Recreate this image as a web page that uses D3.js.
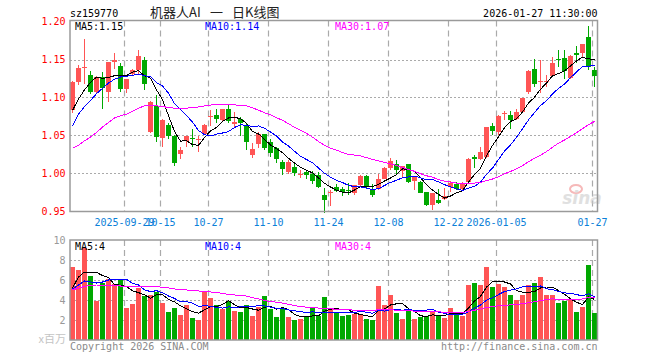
<!DOCTYPE html>
<html>
<head>
<meta charset="utf-8">
<script src="https://cdn.jsdelivr.net/npm/d3@7"></script>
<style>
body { margin: 0; background: #fff; }
svg { display: block; }
text { font-family: "DejaVu Sans Mono", monospace; font-size: 10px; }
</style>
</head>
<body>
<svg id="chart" width="660" height="360"></svg>
<script>
// trading days shown
const dates = [
  "2025-09-16","2025-09-17","2025-09-18","2025-09-19","2025-09-22","2025-09-23","2025-09-24","2025-09-25","2025-09-26","2025-09-29",
  "2025-09-30","2025-10-09","2025-10-10","2025-10-13","2025-10-14","2025-10-15","2025-10-16","2025-10-17","2025-10-20","2025-10-21",
  "2025-10-22","2025-10-23","2025-10-24","2025-10-27","2025-10-28","2025-10-29","2025-10-30","2025-10-31","2025-11-03","2025-11-04",
  "2025-11-05","2025-11-06","2025-11-07","2025-11-10","2025-11-11","2025-11-12","2025-11-13","2025-11-14","2025-11-17","2025-11-18",
  "2025-11-19","2025-11-20","2025-11-21","2025-11-24","2025-11-25","2025-11-26","2025-11-27","2025-11-28","2025-12-01","2025-12-02",
  "2025-12-03","2025-12-04","2025-12-05","2025-12-08","2025-12-09","2025-12-10","2025-12-11","2025-12-12","2025-12-15","2025-12-16",
  "2025-12-17","2025-12-18","2025-12-19","2025-12-22","2025-12-23","2025-12-24","2025-12-25","2025-12-26","2025-12-29","2025-12-30",
  "2025-12-31","2026-01-05","2026-01-06","2026-01-07","2026-01-08","2026-01-09","2026-01-12","2026-01-13","2026-01-14","2026-01-15",
  "2026-01-16","2026-01-19","2026-01-20","2026-01-21","2026-01-22","2026-01-23","2026-01-26","2026-01-27"
];

const opens = [
  1.083,1.121,1.139,1.130,1.1075,1.127,1.1075,1.147,1.141,1.111,
  1.131,1.136,1.149,1.055,1.0886,1.047,1.0636,1.050,1.026,1.043,
  1.0465,1.045,1.0526,1.0755,1.0768,1.070,1.0855,1.065,1.0715,1.0636,
  1.024,1.0386,1.0526,1.0417,1.033,1.0154,1.002,1.0088,0.9995,1.002,
  1.000,0.998,0.9715,0.975,0.9825,0.980,0.9785,0.9746,0.9846,0.9965,
  0.980,0.980,0.9934,1.0066,1.013,1.0035,1.0123,0.990,0.989,0.976,
  0.9583,0.965,0.967,0.9825,0.9868,0.980,0.989,1.022,1.0197,1.022,
  1.0627,1.0548,1.078,1.0768,1.0715,1.081,1.1075,1.1373,1.121,1.121,
  1.128,1.1505,1.1526,1.1263,1.1588,1.1588,1.180,1.136
];
const highs = [
  1.122,1.143,1.177,1.135,1.128,1.134,1.147,1.158,1.146,1.125,
  1.137,1.162,1.1535,1.095,1.103,1.072,1.0658,1.0504,1.035,1.050,
  1.058,1.049,1.065,1.0842,1.0846,1.0855,1.090,1.081,1.074,1.0658,
  1.0395,1.0548,1.0526,1.046,1.0355,1.0184,1.0175,1.0123,1.0044,1.0044,
  1.0035,1.002,0.9803,0.978,0.9868,0.9825,0.988,0.9855,0.9978,0.9978,
  0.986,1.000,1.0088,1.021,1.0184,1.0101,1.0123,0.9956,0.990,0.976,
  0.9746,0.979,0.9803,0.990,0.989,0.989,1.020,1.025,1.035,1.0614,
  1.067,1.0768,1.0825,1.0825,1.0843,1.100,1.136,1.1513,1.149,1.129,
  1.1535,1.162,1.163,1.1557,1.1675,1.170,1.1939,1.1404
];
const lows = [
  1.080,1.116,1.118,1.104,1.105,1.0855,1.094,1.138,1.1075,1.106,
  1.129,1.129,1.1096,1.053,1.0417,1.035,1.046,1.010,1.0197,1.035,
  1.035,1.028,1.051,1.0623,1.067,1.068,1.0658,1.0605,1.0496,1.0307,
  1.021,1.0338,1.0307,1.022,1.014,0.9978,1.000,0.997,0.9947,0.9925,
  0.986,0.9803,0.9482,0.9574,0.9759,0.970,0.9715,0.9715,0.9825,0.9803,
  0.9693,0.978,0.9925,1.0044,1.000,0.9956,0.988,0.978,0.9737,0.957,
  0.9518,0.960,0.965,0.9755,0.978,0.978,0.988,1.0066,1.018,1.021,
  1.0504,1.0504,1.070,1.0592,1.0702,1.079,1.1045,1.114,1.106,1.114,
  1.127,1.1404,1.125,1.125,1.1456,1.1535,1.136,1.114
];
const closes = [
  1.121,1.139,1.140,1.1075,1.127,1.112,1.1465,1.150,1.111,1.124,
  1.136,1.155,1.118,1.094,1.0474,1.071,1.050,1.014,1.031,1.049,
  1.046,1.046,1.0636,1.076,1.0715,1.0855,1.069,1.068,1.066,1.0417,
  1.032,1.0526,1.033,1.0272,1.019,1.0057,1.0154,1.001,1.000,0.998,
  0.990,0.9825,0.965,0.976,0.977,0.976,0.978,0.9846,0.9965,0.9825,
  0.9715,0.9934,1.0066,1.0167,1.0044,1.0096,0.989,0.995,0.9746,0.9583,
  0.9737,0.9614,0.9706,0.9877,0.979,0.9877,1.0189,1.0197,1.0285,1.0614,
  1.0557,1.0759,1.079,1.070,1.0803,1.0987,1.135,1.1175,1.122,1.122,
  1.146,1.150,1.135,1.1544,1.1553,1.170,1.140,1.1285
];
// volume, millions
const volumes = [
  7.3,7.03,9.2,6.4,3.9,5.7,6.1,5.6,6.1,3.2,
  3.6,5.2,4.45,4.5,4.85,3.7,2.8,3.2,2.5,3.5,
  2.2,2.0,4.9,4.2,3.5,3.15,3.9,2.9,2.8,3.5,
  2.4,3.3,4.4,3.1,2.3,3.1,2.3,2.0,2.1,2.4,
  3.2,2.4,4.3,3.1,2.8,2.4,2.5,2.6,2.5,2.1,
  2.0,5.4,3.5,4.5,2.7,2.1,2.9,2.1,2.3,2.4,
  2.9,2.5,2.2,3.2,2.7,2.4,5.5,5.7,5.5,7.3,
  5.3,5.6,5.3,4.5,4.0,4.5,5.5,5.7,6.3,4.5,
  4.5,3.7,3.9,4.0,2.8,3.3,7.5,2.7
];

// moving-average values before a full window exists
const ma5Head = [1.083,1.098,1.110,1.120];
const ma10Head = [1.063,1.078,1.088,1.096,1.105,1.112,1.119,1.124,1.127];
const ma30Head = [1.033,1.037,1.043,1.048,1.054,1.061,1.067,1.073,1.076,1.078,1.082,1.086,1.089,1.089,1.089,
  1.088,1.087,1.086,1.0855,1.086,1.087,1.0875,1.089,1.090,1.091,1.091,1.091,1.0905,1.089];
const vma5Head = [5.2,6.3,6.8,6.8];
const vma10Head = [5.1,5.5,5.9,5.8,5.7,5.8,6.0,6.05,6.05];
const vma30Head = [5.0,5.2,5.35,5.45,5.5,5.5,5.5,5.45,5.4,5.4,5.4,5.4,5.4,5.4,5.35,
  5.25,5.2,5.1,5.05,5.0,4.95,4.9,4.85,4.8,4.75,4.65,4.55,4.5,4.45];

const priceTicks = [0.95,1.00,1.05,1.10,1.15,1.20];
const volTicks = [2,4,6,8,10];
const tickDates = ["2025-09-29","2025-10-15","2025-10-27","2025-11-10","2025-11-24","2025-12-08","2025-12-22","2026-01-05","2026-01-27"];
const tickLabels = ["2025-09-29","10-15","10-27","11-10","11-24","12-08","12-22","2026-01-05","01-27"];

const code = "sz159770",
  titleParts = ["机器人AI", "一", "日K线图"],
  stamp = "2026-01-27 11:30:00";

// layout
const left = 70, right = 597.5;
const main = {top: 20.5, bottom: 211.5};
const vol = {top: 240, bottom: 340};
const RED = "#ff5555", GREEN = "#00a800", GRID = "#aaa";
const MA_COLORS = ["#000", "#0000ff", "#ff00ff"];

const movingAvg = (values, n, head) =>
  values.map((v, i) => i < n - 1 ? head[i] : d3.mean(values.slice(i - n + 1, i + 1)));

const ma = [movingAvg(closes, 5, ma5Head), movingAvg(closes, 10, ma10Head), movingAvg(closes, 30, ma30Head)];
const vma = [movingAvg(volumes, 5, vma5Head), movingAvg(volumes, 10, vma10Head), movingAvg(volumes, 30, vma30Head)];

const svg = d3.select("#chart");

let x = d3.scaleLinear()
  .domain([0, dates.length - 1])
  .range([left + 2.5, left + 2.5 + 6 * (dates.length - 1)]);

let y = d3.scaleLinear()
  .domain([0.95, 1.20])
  .range([main.bottom, main.top + 1]);

let yv = d3.scaleLinear()
  .domain([0, 10])
  .range([vol.bottom, vol.top]);

const up = i => closes[i] >= opens[i];

// grid
const tickIdx = tickDates.map(d => dates.indexOf(d));
[main, vol].forEach(p => {
  svg.append("g")
    .selectAll("line")
    .data(tickIdx)
    .join("line")
    .attr("x1", i => x(i) - 2).attr("x2", i => x(i) - 2)
    .attr("y1", p.top).attr("y2", p.bottom)
    .attr("stroke", GRID).attr("stroke-width", 1.2)
    .attr("stroke-dasharray", "6,4");
});

svg.append("g")
  .selectAll("line")
  .data(priceTicks.slice(1, -1))
  .join("line")
  .attr("x1", left).attr("x2", right)
  .attr("y1", d => Math.round(y(d)) + 0.5).attr("y2", d => Math.round(y(d)) + 0.5)
  .attr("stroke", GRID).attr("stroke-dasharray", "2,2");

svg.append("g")
  .selectAll("line")
  .data(volTicks.slice(0, -1))
  .join("line")
  .attr("x1", left).attr("x2", right)
  .attr("y1", d => yv(d) + 0.5).attr("y2", d => yv(d) + 0.5)
  .attr("stroke", GRID).attr("stroke-dasharray", "2,2");

// sina watermark
const wm = svg.append("g").attr("opacity", 0.55);
wm.append("ellipse").attr("cx", 576).attr("cy", 189).attr("rx", 6).attr("ry", 4)
  .attr("fill", "none").attr("stroke", "#f08080").attr("stroke-width", 2);
wm.append("text").attr("x", 582).attr("y", 204).attr("text-anchor", "middle")
  .style("font-family", "DejaVu Sans").style("font-size", "17px")
  .style("font-style", "italic").style("font-weight", "bold")
  .attr("fill", "#c8c8c8").text("sina");

// candles
const candles = svg.append("g")
  .attr("shape-rendering", "crispEdges")
  .selectAll("g")
  .data(dates.map((d, i) => i))
  .join("g")
  .attr("fill", i => up(i) ? RED : GREEN)
  .attr("stroke", i => up(i) ? RED : GREEN);

candles.append("line")
  .attr("x1", i => x(i)).attr("x2", i => x(i))
  .attr("y1", i => y(highs[i])).attr("y2", i => y(lows[i]));

candles.append("rect")
  .attr("stroke", "none")
  .attr("x", i => x(i) - 2.5)
  .attr("width", 5)
  .attr("y", i => y(Math.max(opens[i], closes[i])))
  .attr("height", i => Math.max(1, Math.abs(y(opens[i]) - y(closes[i]))));

// volume bars
svg.append("g")
  .attr("shape-rendering", "crispEdges")
  .selectAll("rect")
  .data(volumes)
  .join("rect")
  .attr("x", (d, i) => x(i) - 2.5)
  .attr("width", 5)
  .attr("y", d => yv(d))
  .attr("height", d => vol.bottom - yv(d))
  .attr("fill", (d, i) => up(i) ? RED : GREEN);

// moving averages
let line = d3.line().x((d, i) => x(i)).y(d => y(d));
let vline = d3.line().x((d, i) => x(i)).y(d => yv(d));

svg.append("g")
  .attr("fill", "none")
  .attr("shape-rendering", "crispEdges")
  .selectAll("path")
  .data(ma)
  .join("path")
  .attr("d", line)
  .attr("stroke", (d, i) => MA_COLORS[i]);

svg.append("g")
  .attr("fill", "none")
  .attr("shape-rendering", "crispEdges")
  .selectAll("path")
  .data(vma)
  .join("path")
  .attr("d", vline)
  .attr("stroke", (d, i) => MA_COLORS[i]);

// frames
[main, vol].forEach(p => {
  svg.append("rect")
    .attr("x", left).attr("y", p.top)
    .attr("width", right - left).attr("height", p.bottom - p.top)
    .attr("fill", "none").attr("stroke", "#9a9a9a").attr("stroke-width", 1.5);
});

// axis labels
svg.append("g")
  .selectAll("text")
  .data(priceTicks)
  .join("text")
  .attr("x", 65.5).attr("y", d => y(d)).attr("dy", "0.35em")
  .attr("text-anchor", "end").attr("fill", "#ff0000")
  .text(d => d.toFixed(2));

svg.append("g")
  .selectAll("text")
  .data(volTicks)
  .join("text")
  .attr("x", 65.5).attr("y", d => yv(d)).attr("dy", "0.35em")
  .attr("text-anchor", "end").attr("fill", "#999")
  .text(d => d);

svg.append("text")
  .attr("x", 66).attr("y", 343).attr("text-anchor", "end")
  .attr("fill", "#c4c4c4")
  .style("font-family", "Noto Sans CJK SC").style("font-size", "11px")
  .text("x百万");

svg.append("g")
  .selectAll("text")
  .data(tickLabels)
  .join("text")
  .attr("x", (d, k) => x(tickIdx[k]) - 2)
  .attr("y", 225.5)
  .attr("text-anchor", "middle")
  .attr("fill", "#0b80d8")
  .text(d => d);

// legends
const fmt2 = d3.format(".2f");
const names = ["MA5", "MA10", "MA30"];
const legendX = [75, 205, 335];
names.forEach((n, k) => {
  svg.append("text").attr("x", legendX[k]).attr("y", 30)
    .attr("fill", MA_COLORS[k])
    .text(`${n}:${fmt2(ma[k][ma[k].length - 1])}`);
  svg.append("text").attr("x", legendX[k]).attr("y", 249.5)
    .attr("fill", MA_COLORS[k])
    .text(`${n}:${Math.round(vma[k][vma[k].length - 1])}`);
});

// header / footer
svg.append("text").attr("x", 70).attr("y", 16.5).attr("fill", "#000").text(code);
svg.append("text").attr("y", 17)
  .attr("fill", "#222")
  .style("font-family", "Noto Sans CJK SC").style("font-size", "13px")
  .selectAll("tspan")
  .data(titleParts)
  .join("tspan")
  .attr("x", (d, k) => [150, 210, 232][k])
  .text(d => d);
svg.append("text").attr("x", 597.5).attr("y", 16.5).attr("text-anchor", "end")
  .attr("fill", "#000").text(stamp);

svg.append("text").attr("x", 70).attr("y", 349.5).attr("fill", "#8a8a8a").text("Copyright 2026 SINA.COM");
svg.append("text").attr("x", 597.5).attr("y", 349.5).attr("text-anchor", "end")
  .attr("fill", "#8a8a8a").text("http://finance.sina.com.cn");
</script>
</body>
</html>
